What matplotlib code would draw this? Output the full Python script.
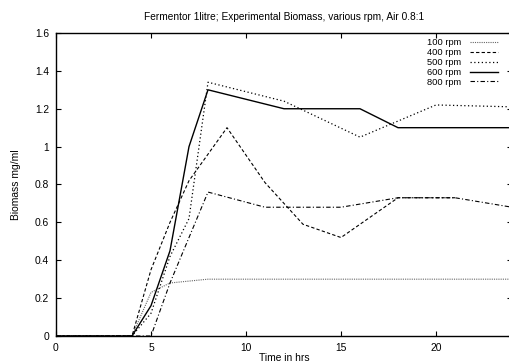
import matplotlib
matplotlib.use("Agg")
import matplotlib.pyplot as plt
from matplotlib.ticker import FormatStrFormatter

plt.rcParams['font.family'] = ['Liberation Sans', 'DejaVu Sans']

# Biomass readings (mg/ml) against time (hrs) for each stirrer speed
t_100 = [0, 4, 5, 6, 8, 12, 16, 20, 24]
b_100 = [0, 0, 0.23, 0.28, 0.30, 0.30, 0.30, 0.30, 0.30]

t_400 = [0, 4, 5, 6, 7, 9, 11, 13, 15, 18, 21]
b_400 = [0, 0, 0.35, 0.60, 0.82, 1.10, 0.81, 0.59, 0.52, 0.73, 0.73]

t_500 = [0, 4, 5, 6, 7, 8, 12, 16, 20, 24]
b_500 = [0, 0, 0.12, 0.42, 0.62, 1.34, 1.24, 1.05, 1.22, 1.21]

t_600 = [0, 4, 5, 6, 7, 8, 12, 16, 18, 24]
b_600 = [0, 0, 0.16, 0.45, 1.00, 1.30, 1.20, 1.20, 1.10, 1.10]

t_800 = [0, 5, 6, 7, 8, 11, 15, 18, 21, 24]
b_800 = [0, 0, 0.28, 0.52, 0.76, 0.68, 0.68, 0.73, 0.73, 0.68]

fs = 7.4

fig = plt.figure(figsize=(5.1, 3.64), dpi=100)
ax = fig.add_axes([56 / 510, 28 / 364, 456 / 510, 303 / 364])

ax.plot(t_100, b_100, color='#666666', lw=0.8, linestyle=(0, (1, 1)), label='100 rpm')
ax.plot(t_400, b_400, color='black', lw=0.8, linestyle=(0, (3, 2)), label='400 rpm')
ax.plot(t_500, b_500, color='black', lw=0.9, linestyle=(0, (1, 2)), label='500 rpm')
ax.plot(t_600, b_600, color='black', lw=1.0, linestyle='-', label='600 rpm')
ax.plot(t_800, b_800, color='black', lw=0.8, linestyle=(0, (4, 2, 1, 2)), label='800 rpm')

ax.set_xlim(0, 24)
ax.set_ylim(0, 1.6)
ax.set_xticks([0, 5, 10, 15, 20])
ax.set_yticks([0, 0.2, 0.4, 0.6, 0.8, 1.0, 1.2, 1.4, 1.6])
ax.yaxis.set_major_formatter(FormatStrFormatter('%g'))
ax.tick_params(direction='in', length=3.5, width=0.8, labelsize=fs,
               top=True, right=True, pad=5)
for s in ax.spines.values():
    s.set_linewidth(1.0)

ax.set_title('Fermentor 1litre; Experimental Biomass, various rpm, Air 0.8:1',
             fontsize=7.3, pad=9)
ax.set_xlabel('Time in hrs', fontsize=fs, labelpad=0)
ax.set_ylabel('Biomass mg/ml', fontsize=fs, labelpad=10)

ax.legend(loc='upper right', bbox_to_anchor=(498 / 510, 326 / 364),
          bbox_transform=fig.transFigure, frameon=False, markerfirst=False,
          fontsize=6.7, handlelength=3.0, handletextpad=1.0,
          labelspacing=0.1, borderpad=0, borderaxespad=0)

fig.savefig('out.png', dpi=100)
